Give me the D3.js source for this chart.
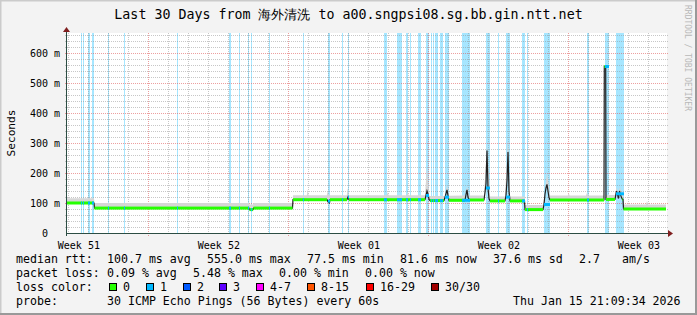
<!DOCTYPE html>
<html>
<head>
<meta charset="utf-8">
<script src="https://cdn.jsdelivr.net/npm/d3@7"></script>
<style>
body { margin: 0; background: #fff; }
svg { display: block; }
text { font-family: 'DejaVu Sans Mono', monospace; fill: #000; }
</style>
</head>
<body>
<svg id="chart" width="697" height="315"></svg>
<script>
'use strict';

const START = Date.UTC(2025, 11, 16, 21, 9, 34);
const END = Date.UTC(2026, 0, 15, 21, 9, 34);
const DAY = 864e5;

// median rtt, [days since START, ms]
const medianPts = [
    [0, 100], [1.40, 100], [1.425, 83], [9.15, 83], [9.175, 78], [9.35, 78], [9.375, 83],
    [11.325, 83], [11.35, 111], [13.05, 111], [13.10, 104], [13.175, 100], [13.20, 111],
    [14.05, 111], [14.10, 120], [14.15, 111], [17.95, 111], [18.00, 125], [18.05, 140],
    [18.10, 130], [18.15, 112], [18.20, 108], [18.90, 108], [18.975, 125], [19.05, 144],
    [19.10, 125], [19.15, 109], [19.95, 109], [20.00, 128], [20.05, 144], [20.10, 120],
    [20.15, 110], [20.90, 110], [20.95, 135], [21.00, 165], [21.05, 275], [21.10, 150],
    [21.15, 115], [21.20, 107], [21.95, 107], [22.00, 125], [22.05, 175], [22.10, 270],
    [22.15, 140], [22.20, 107], [22.925, 107], [22.95, 78], [23.85, 78], [23.90, 95],
    [23.95, 130], [24.00, 150], [24.05, 162], [24.10, 140], [24.15, 118], [24.20, 110],
    [26.90, 110], [26.915, 555], [26.985, 555], [27.00, 112], [27.45, 112], [27.525, 140],
    [27.575, 128], [27.625, 115], [27.675, 140], [27.725, 128], [27.775, 118], [27.825, 112],
    [27.85, 112], [27.875, 80], [30, 80]
];

// upper edge of the smoke, [days since START, ms]
const smokePts = [
    [0, 116], [1.40, 116], [1.425, 100], [9.15, 100], [9.175, 95], [9.35, 95], [9.375, 100],
    [11.325, 100], [11.35, 126], [12.04, 126], [12.085, 145], [12.13, 126],
    [13.04, 126], [13.085, 140], [13.13, 126], [14.04, 126], [14.085, 150], [14.13, 126],
    [16.04, 126], [16.085, 137], [16.13, 126], [17.04, 126], [17.085, 137], [17.13, 126],
    [17.95, 126], [18.05, 223], [18.15, 126], [18.20, 123], [18.95, 123], [19.05, 161],
    [19.15, 124], [19.95, 125], [20.05, 155], [20.15, 125], [20.90, 125], [21.05, 295],
    [21.20, 122], [21.95, 122], [22.10, 315], [22.20, 122], [22.925, 122], [22.95, 93],
    [23.85, 93], [23.90, 110], [24.05, 200], [24.20, 125], [25.09, 125], [25.135, 133],
    [25.18, 125], [26.00, 125], [26.05, 135], [26.10, 125], [26.90, 125], [26.915, 560],
    [26.985, 560], [27.00, 127], [27.45, 127], [27.55, 153], [27.60, 130], [27.70, 153],
    [27.80, 127], [27.85, 127], [27.875, 95], [29.00, 95], [29.05, 107], [29.10, 95], [30, 95]
];

// periods with 1/30 packets lost, [days since START, duration in days]
const lossPeriods = [
    [0.75, 0.05], [0.85, 0.05], [1.075, 0.05], [1.165, 0.05], [1.285, 0.05], [1.365, 0.05],
    [2.115, 0.05], [2.915, 0.05], [5.565, 0.05], [8.165, 0.1], [8.66, 0.05], [9.075, 0.05],
    [9.275, 0.05], [10.135, 0.05], [11.865, 0.05], [13.085, 0.1], [13.80, 0.05], [14.10, 0.05],
    [15.915, 0.17], [16.565, 0.25], [16.975, 0.075], [17.20, 0.05], [17.615, 0.17],
    [18.00, 0.125], [18.235, 0.05], [18.35, 0.05], [18.465, 0.17], [18.70, 0.15], [18.95, 0.2],
    [19.785, 0.38], [20.975, 0.225], [21.585, 0.05], [21.985, 0.215], [22.80, 0.135],
    [23.065, 0.05], [23.90, 0.3], [26.025, 0.1], [26.965, 0.185], [27.50, 0.4]
];

const yTickValues = [0, 0.1, 0.2, 0.3, 0.4, 0.5, 0.6];
const yTickLabels = ['0  ', '100 m', '200 m', '300 m', '400 m', '500 m', '600 m'];
const weekLabels = ['Week 51', 'Week 52', 'Week 01', 'Week 02', 'Week 03'];

const lossNames = ['0', '1', '2', '3', '4-7', '8-15', '16-29', '30/30'];
const lossColors = ['#26ff00', '#00b8ff', '#0059ff', '#5e00ff', '#ff00ff', '#ff5500', '#ff0000', '#a10000'];

const statsRtt = [['median rtt:', 16], ['100.7 ms avg', 107], ['555.0 ms max', 207], ['77.5 ms min', 307],
    ['81.6 ms now', 400], ['37.6 ms sd', 493], ['2.7', 579], ['am/s', 622]];
const statsLoss = [['packet loss:', 16], ['0.09 % avg', 107], ['5.48 % max', 193], ['0.00 % min', 279],
    ['0.00 % now', 365]];
const swatchX = [109, 146, 183, 219, 256, 307, 366, 431];

const svg = d3.select('#chart');
const W = 697, H = 315;

const x = d3.scaleUtc().domain([new Date(START), new Date(END)]).range([66, 666]);
const y = d3.scaleLinear().domain([0, 0.66667]).range([233, 33]);
const dt = d => new Date(START + d * DAY);
const X0 = 67, X1 = 667, Y0 = 233, Y1 = 33;

// background and shade
svg.append('rect').attr('width', W).attr('height', H).attr('fill', '#f3f3f3');
svg.append('path').attr('d', `M0.5,${H} V0.5 H${W}`).attr('stroke', '#cbcbcb').attr('stroke-width', 2).attr('fill', 'none');
svg.append('path').attr('d', `M0,${H - 1} H${W - 1} V0`).attr('stroke', '#999').attr('stroke-width', 2).attr('fill', 'none');
svg.append('rect').attr('x', X0).attr('y', Y1).attr('width', X1 - X0).attr('height', Y0 - Y1).attr('fill', '#fff');

// loss background
svg.append('g').selectAll('rect').data(lossPeriods).enter().append('rect')
    .attr('x', d => Math.round(x(dt(d[0]))))
    .attr('width', d => Math.max(1, Math.round(x(dt(d[0] + d[1])) - x(dt(d[0])))))
    .attr('y', Y1).attr('height', Y0 - Y1)
    .attr('fill', '#00b8ff').attr('fill-opacity', 0.35);

// grid
const grid = svg.append('g');
const px = v => Math.round(v) + 0.5;
const minorY = y.ticks(33).filter(v => Math.abs(v * 10 - Math.round(v * 10)) > 1e-6);
grid.selectAll('.hmin').data(minorY).enter().append('line')
    .attr('x1', X0 - 2).attr('x2', X1 + 2).attr('y1', d => px(y(d))).attr('y2', d => px(y(d)))
    .attr('stroke', '#8f8f8f').attr('stroke-opacity', 0.5).attr('stroke-dasharray', '1,1');
grid.selectAll('.hmaj').data(yTickValues.slice(1)).enter().append('line')
    .attr('x1', X0 - 2).attr('x2', X1 + 2).attr('y1', d => px(y(d))).attr('y2', d => px(y(d)))
    .attr('stroke', '#de5050').attr('stroke-opacity', 0.55).attr('stroke-dasharray', '1,1');

const days = d3.utcDay.range(new Date(START), new Date(END));
const weeks = d3.utcSunday.range(new Date(START), new Date(END));
const isWeek = d => weeks.some(w => +w === +d);
grid.selectAll('.vmin').data(days.filter(d => !isWeek(d))).enter().append('line')
    .attr('x1', d => px(x(d))).attr('x2', d => px(x(d))).attr('y1', Y1).attr('y2', Y0 + 2)
    .attr('stroke', '#8f8f8f').attr('stroke-opacity', 0.5).attr('stroke-dasharray', '1,1');
grid.selectAll('.vmaj').data(weeks).enter().append('line')
    .attr('x1', d => px(x(d))).attr('x2', d => px(x(d))).attr('y1', Y1).attr('y2', Y0 + 3)
    .attr('stroke', '#de5050').attr('stroke-opacity', 0.55).attr('stroke-dasharray', '1,1');

// smoke
const medAt = d3.scaleLinear().domain(medianPts.map(p => p[0])).range(medianPts.map(p => p[1]));
const smokeAt = d3.scaleLinear().domain(smokePts.map(p => p[0])).range(smokePts.map(p => p[1]));
const smokeDays = Array.from(new Set(smokePts.map(p => p[0]).concat(medianPts.map(p => p[0]))))
    .sort((a, b) => a - b);
const smokeArea = d3.area()
    .x(d => x(dt(d[0])))
    .y0(d => y(medAt(d[0]) / 1000))
    .y1(d => y(d[1] / 1000));
svg.append('path')
    .datum(smokeDays.map(d => [d, Math.max(smokeAt(d), medAt(d))]))
    .attr('d', smokeArea)
    .attr('fill', '#d6d6d6');

// median line
const medLine = d3.line().x(d => x(dt(d[0]))).y(d => y(d[1] / 1000));
svg.append('path').datum(medianPts).attr('d', medLine)
    .attr('fill', 'none').attr('stroke', '#202020').attr('stroke-width', 1.2);

// loss coloured median boxes
const flats = d3.pairs(medianPts).filter(p => p[0][1] === p[1][1]);
svg.append('g').selectAll('rect').data(flats).enter().append('rect')
    .attr('x', d => x(dt(d[0][0])))
    .attr('width', d => x(dt(d[1][0])) - x(dt(d[0][0])))
    .attr('y', d => y(d[0][1] / 1000) - 1.5).attr('height', 3)
    .attr('fill', lossColors[0]);
svg.append('g').selectAll('rect').data(lossPeriods).enter().append('rect')
    .attr('x', d => Math.round(x(dt(d[0]))))
    .attr('width', d => Math.max(1, Math.round(x(dt(d[0] + d[1])) - x(dt(d[0])))))
    .attr('y', d => y(medAt(d[0]) / 1000) - 1.5).attr('height', 3)
    .attr('fill', lossColors[1]);

// axes
svg.append('line').attr('x1', X0 - 0.5).attr('x2', X1 + 2).attr('y1', Y0 + 0.5).attr('y2', Y0 + 0.5)
    .attr('stroke', '#2c4d43');
svg.append('line').attr('x1', X0 - 0.5).attr('x2', X0 - 0.5).attr('y1', Y0 + 3).attr('y2', Y1 - 1)
    .attr('stroke', '#2c4d43');
svg.append('path').attr('d', `M${X1 + 1},${Y0 - 3} L${X1 + 6},${Y0 + 0.5} L${X1 + 1},${Y0 + 4} Z`).attr('fill', '#7f1f1f');
svg.append('path').attr('d', `M${X0 - 4},${Y1 - 1} L${X0 - 0.5},${Y1 - 6} L${X0 + 3},${Y1 - 1} Z`).attr('fill', '#7f1f1f');

// y labels
const yAxis = d3.axisLeft(y).tickValues(yTickValues).tickSize(0)
    .tickFormat((d, i) => yTickLabels[i]);
svg.append('g').attr('transform', `translate(${X0 - 7},0)`).call(yAxis)
    .call(g => g.select('.domain').remove())
    .selectAll('text').attr('font-size', 10).attr('dy', '0.35em').attr('x', 0)
    .style('white-space', 'pre').attr('font-family', "'DejaVu Sans Mono', monospace");

// x labels at mid-week
const labelTimes = weeks.map(w => d3.utcHour.offset(w, -84));
labelTimes.push(d3.utcHour.offset(weeks[weeks.length - 1], 84));
const xAxis = d3.axisBottom(x).tickValues(labelTimes).tickSize(0)
    .tickFormat((d, i) => weekLabels[i]);
svg.append('g').attr('transform', `translate(0,${Y0 + 6})`).call(xAxis)
    .call(g => g.select('.domain').remove())
    .selectAll('text').attr('font-size', 10).attr('dy', '0.71em')
    .attr('font-family', "'DejaVu Sans Mono', monospace");

// title and labels
svg.append('text').attr('x', W / 2).attr('y', 19).attr('text-anchor', 'middle')
    .attr('font-size', 13.3).text('Last 30 Days from 海外清洗 to a00.sngpsi08.sg.bb.gin.ntt.net');
svg.append('text').attr('transform', 'translate(15,133) rotate(-90)').attr('text-anchor', 'middle')
    .attr('font-size', 11.2).text('Seconds');
svg.append('text').attr('transform', 'translate(685,5) rotate(90)')
    .attr('font-size', 8).style('fill', '#b8b8b8')
    .text('RRDTOOL / TOBI OETIKER');

// legend
const leg = svg.append('g').attr('font-size', 11.6);
leg.selectAll('.r1').data(statsRtt).enter().append('text')
    .attr('x', d => d[1]).attr('y', 263).text(d => d[0]);
leg.selectAll('.r2').data(statsLoss).enter().append('text')
    .attr('x', d => d[1]).attr('y', 277).text(d => d[0]);
leg.append('text').attr('x', 16).attr('y', 291).text('loss color:');
leg.selectAll('.sw').data(lossNames).enter().append('rect')
    .attr('x', (d, i) => swatchX[i] + 0.5).attr('y', 283.5).attr('width', 7).attr('height', 7)
    .attr('fill', (d, i) => lossColors[i]).attr('stroke', '#000');
leg.selectAll('.swl').data(lossNames).enter().append('text')
    .attr('x', (d, i) => swatchX[i] + 14).attr('y', 291).text(d => d);
leg.append('text').attr('x', 16).attr('y', 304.5).text('probe:');
leg.append('text').attr('x', 107).attr('y', 304.5).text('30 ICMP Echo Pings (56 Bytes) every 60s');
leg.append('text').attr('x', 513).attr('y', 304.5).text('Thu Jan 15 21:09:34 2026');
</script>
</body>
</html>
